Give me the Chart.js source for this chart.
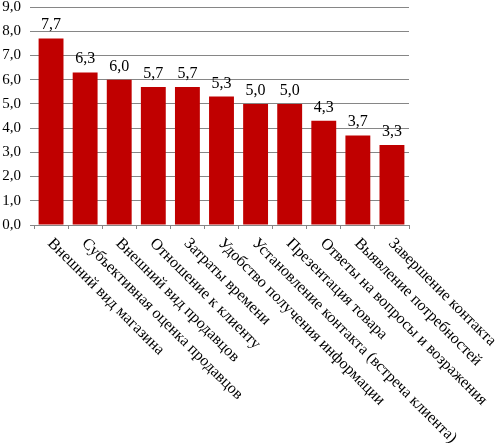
<!DOCTYPE html>
<html>
<head>
<meta charset="utf-8">
<script src="https://cdn.jsdelivr.net/npm/chart.js@4/dist/chart.umd.min.js"></script>
<style>
  html, body { margin: 0; padding: 0; background: #fff; }
</style>
</head>
<body>
<canvas id="chart1" width="496" height="446"></canvas>
<script>
var categories = [
    "Внешний вид магазина",
    "Субъективная оценка продавцов",
    "Внешний вид продавцов",
    "Отношение к клиенту",
    "Затраты времени",
    "Удобство получения информации",
    "Установление контакта (встреча клиента)",
    "Презентация товара",
    "Ответы на вопросы и возражения",
    "Выявление потребностей",
    "Завершение контакта"
];
var values = [7.7, 6.3, 6.0, 5.7, 5.7, 5.3, 5.0, 5.0, 4.3, 3.7, 3.3];
var yMin = 0;
var yMax = 9;
var yStep = 1;

const FONT = "'Liberation Serif', 'Times New Roman', serif";

function comma(v) {
    return Number(v).toFixed(1).replace(".", ",");
}

// value labels over bars + rotated category labels
const labelPlugin = {
    id: "labels",
    afterDraw(chart) {
        const ctx = chart.ctx;
        const meta = chart.getDatasetMeta(0);
        const xs = chart.scales.x;
        ctx.save();
        ctx.fillStyle = "#000";
        ctx.font = "16px " + FONT;
        ctx.textAlign = "center";
        ctx.textBaseline = "alphabetic";
        meta.data.forEach(function (bar, i) {
            ctx.fillText(comma(values[i]), bar.x, bar.y - 9);
        });

        ctx.font = "16px " + FONT;
        ctx.textAlign = "left";
        ctx.textBaseline = "middle";
        categories.forEach(function (c, i) {
            const x = xs.getPixelForValue(i) - 1;
            const y = chart.chartArea.bottom + 16;
            ctx.save();
            ctx.translate(x, y);
            ctx.rotate(Math.PI / 4);
            ctx.fillText(c, 0, 0);
            ctx.restore();
        });
        ctx.restore();
    }
};

new Chart(document.getElementById("chart1"), {
    type: "bar",
    data: {
        labels: categories,
        datasets: [{
            data: values,
            backgroundColor: "#C00000",
            categoryPercentage: 1.0,
            barPercentage: 0.73
        }]
    },
    options: {
        responsive: false,
        animation: false,
        layout: { padding: { top: 7, right: 87, bottom: 0, left: 0 } },
        plugins: {
            legend: { display: false },
            tooltip: { enabled: false }
        },
        scales: {
            x: {
                grid: {
                    offset: true,
                    drawOnChartArea: false,
                    drawTicks: true,
                    tickLength: 4,
                    color: "#868686"
                },
                border: { display: true, color: "#868686" },
                ticks: { display: false },
                afterFit: function (s) { s.height = 221; }
            },
            y: {
                min: yMin,
                max: yMax,
                grid: {
                    color: "#868686",
                    drawTicks: true,
                    tickLength: 4
                },
                border: { display: false },
                ticks: {
                    stepSize: yStep,
                    padding: 9,
                    color: "#000",
                    font: { family: FONT, size: 15, lineHeight: 1 },
                    callback: function (v) { return comma(v); }
                },
                afterFit: function (s) {
                    s.width = 34;
                    s.paddingTop = 0;
                    s.paddingBottom = 0;
                }
            }
        }
    },
    plugins: [labelPlugin]
});
</script>
</body>
</html>
